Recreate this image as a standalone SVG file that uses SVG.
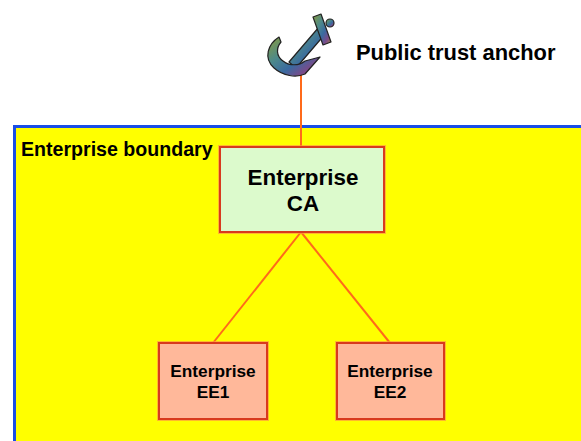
<svg xmlns="http://www.w3.org/2000/svg" width="581" height="441" viewBox="0 0 581 441">
  <style>
    .lbl { font-family: "Liberation Sans", Arial, sans-serif; font-weight: bold; fill: #000; }
    .box { stroke: #D83A1E; stroke-width: 2; }
    .halo { fill: none; stroke: #FF9A40; stroke-width: 4; opacity: 0.7; }
    .link { stroke: #FF6A1A; stroke-width: 2; fill: none; }
  </style>
  <defs>
    <linearGradient id="anchorMetal" x1="0" y1="0" x2="1" y2="1">
      <stop offset="0" stop-color="#8a9a3a"/>
      <stop offset="0.35" stop-color="#4d8a8a"/>
      <stop offset="0.6" stop-color="#3a6aa0"/>
      <stop offset="0.8" stop-color="#7a4a8a"/>
      <stop offset="1" stop-color="#a08a3a"/>
    </linearGradient>
  </defs>

  <!-- enterprise boundary -->
  <g id="boundary">
    <rect x="14.5" y="126.5" width="580" height="330" fill="#FFFF00" stroke="#1A4EE6" stroke-width="3"/>
    <text class="lbl" x="21" y="156" font-size="19.6">Enterprise boundary</text>
  </g>

  <!-- connectors -->
  <g id="connectors">
    <line class="link" x1="301" y1="75" x2="301" y2="147"/>
    <line class="link" x1="301" y1="232" x2="213" y2="343"/>
    <line class="link" x1="301" y1="232" x2="390" y2="343"/>
  </g>

  <!-- public trust anchor -->
  <g id="anchor">
    <g stroke="#222" stroke-width="1.2" fill="url(#anchorMetal)" stroke-linejoin="round">
      <!-- shaft -->
      <path d="M319,27 L326,33 L296,68 L289,62 Z"/>
      <!-- stock -->
      <path d="M313,17 L321,14 L331,42 L323,45 Z"/>
      <!-- ring -->
      <circle cx="330" cy="23" r="4"/>
      <!-- crown and arms -->
      <path d="M279,37 C268,44 263,58 274,68 C283,76 296,78 305,74 L320,57 L305,61 C299,66 289,66 283,61 C276,56 276,48 281,42 Z"/>
    </g>
  </g>
  <g id="anchor-label">
    <text class="lbl" x="356" y="60" font-size="21.9">Public trust anchor</text>
  </g>

  <!-- enterprise CA -->
  <g id="ca">
    <rect class="halo" x="220" y="147" width="164" height="85"/>
    <rect class="box" x="220" y="147" width="164" height="85" fill="#DCFACC"/>
    <text class="lbl" x="303" y="185" font-size="22.4" text-anchor="middle">Enterprise</text>
    <text class="lbl" x="303" y="211" font-size="22.4" text-anchor="middle">CA</text>
  </g>

  <!-- end entities -->
  <g id="ee1">
    <rect class="halo" x="159" y="343" width="108" height="76"/>
    <rect class="box" x="159" y="343" width="108" height="76" fill="#FFB89A"/>
    <text class="lbl" x="213" y="377" font-size="17.3" text-anchor="middle">Enterprise</text>
    <text class="lbl" x="213" y="398" font-size="17.3" text-anchor="middle">EE1</text>
  </g>
  <g id="ee2">
    <rect class="halo" x="337" y="343" width="107" height="76"/>
    <rect class="box" x="337" y="343" width="107" height="76" fill="#FFB89A"/>
    <text class="lbl" x="390" y="377" font-size="17.3" text-anchor="middle">Enterprise</text>
    <text class="lbl" x="390" y="398" font-size="17.3" text-anchor="middle">EE2</text>
  </g>
</svg>
